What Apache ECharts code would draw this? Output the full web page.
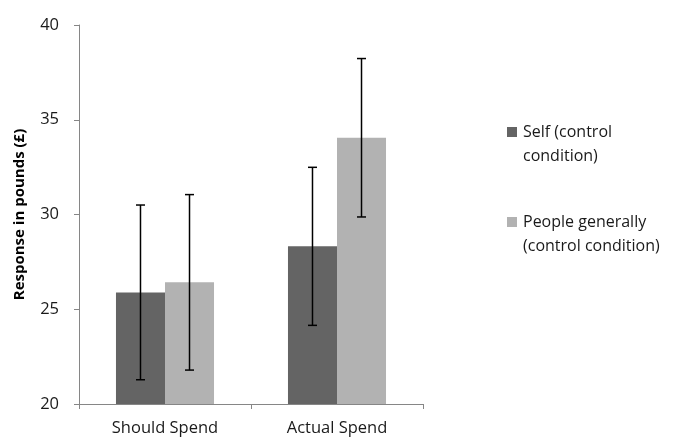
<!DOCTYPE html>
<html>
<head>
<meta charset="utf-8">
<script src="https://cdn.jsdelivr.net/npm/echarts@6/dist/echarts.min.js"></script>
<style>
  html, body { margin: 0; padding: 0; background: #fff; }
  #chart { width: 677px; height: 439px; }
</style>
</head>
<body>
<div id="chart"></div>
<script>
// Spending responses by condition, with error bars
const categories = ['Should Spend', 'Actual Spend'];
const seriesNames = ['Self (control condition)', 'People generally (control condition)'];
const legendLines = [['Self (control', 'condition)'], ['People generally', '(control condition)']];
const selfMeans = [25.89, 28.32];
const selfErrors = [4.61, 4.17];
const peopleMeans = [26.42, 34.05];
const peopleErrors = [4.63, 4.18];

const yTicks = { min: 20, max: 40, interval: 5 };

const FONT = '"Open Sans", sans-serif';
const DARK = '#646464';
const LIGHT = '#b2b2b2';
const AXIS = '#868686';
const CATEGORY_GAP = 0.43;

// Error bar whiskers, shifted to sit on each bar of the pair
function errorBarSeries(means, errors, side) {
  return {
    type: 'custom',
    name: 'err' + side,
    silent: true,
    z: 5,
    data: means.map((m, i) => [i, m - errors[i], m + errors[i]]),
    renderItem: function (params, api) {
      const band = api.size([1, 0])[0];
      const barW = band * (1 - CATEGORY_GAP) / 2;
      const dx = side * barW / 2;
      const lo = api.coord([api.value(0), api.value(1)]);
      const hi = api.coord([api.value(0), api.value(2)]);
      const x = lo[0] + dx;
      const cap = 4.5;
      const style = { stroke: '#000', lineWidth: 1.5 };
      return {
        type: 'group',
        children: [
          { type: 'line', shape: { x1: x, y1: lo[1], x2: x, y2: hi[1] }, style: style },
          { type: 'line', shape: { x1: x - cap, y1: hi[1], x2: x + cap, y2: hi[1] }, style: style },
          { type: 'line', shape: { x1: x - cap, y1: lo[1], x2: x + cap, y2: lo[1] }, style: style }
        ]
      };
    }
  };
}

const chart = echarts.init(document.getElementById('chart'));
chart.setOption({
  animation: false,
  grid: { left: 79, right: 254, top: 25, bottom: 35 },
  legend: {
    data: seriesNames,
    orient: 'vertical',
    left: 502,
    top: 91,
    itemWidth: 10,
    itemHeight: 10,
    itemGap: 18,
    icon: 'rect',
    selectedMode: false,
    // a blank leading line keeps the swatch level with the first text line
    formatter: function (name) {
      const lines = legendLines[seriesNames.indexOf(name)];
      return ' \n' + lines.join('\n');
    },
    textStyle: {
      fontFamily: FONT,
      fontSize: 16,
      color: '#1a1a1a',
      lineHeight: 24,
      padding: [0, 0, 0, 1]
    }
  },
  xAxis: {
    type: 'category',
    data: categories,
    axisLine: { lineStyle: { color: AXIS, width: 1 } },
    axisTick: { show: true, length: 5, lineStyle: { color: AXIS } },
    axisLabel: { fontFamily: FONT, fontSize: 16.5, color: '#1a1a1a', margin: 16 }
  },
  yAxis: {
    type: 'value',
    min: yTicks.min,
    max: yTicks.max,
    interval: yTicks.interval,
    name: 'Response in pounds (£)',
    nameLocation: 'middle',
    nameGap: 52,
    nameTextStyle: { fontFamily: FONT, fontSize: 15, fontWeight: 'bold', color: '#000' },
    axisLine: { show: true, lineStyle: { color: AXIS, width: 1 } },
    axisTick: { show: true, length: 5, lineStyle: { color: AXIS } },
    axisLabel: { fontFamily: FONT, fontSize: 16.5, color: '#1a1a1a', margin: 20 },
    splitLine: { show: false }
  },
  series: [
    {
      name: seriesNames[0],
      type: 'bar',
      data: selfMeans,
      barGap: '0%',
      barCategoryGap: (CATEGORY_GAP * 100) + '%',
      itemStyle: { color: DARK }
    },
    {
      name: seriesNames[1],
      type: 'bar',
      data: peopleMeans,
      itemStyle: { color: LIGHT }
    },
    errorBarSeries(selfMeans, selfErrors, -1),
    errorBarSeries(peopleMeans, peopleErrors, 1)
  ]
});
</script>
</body>
</html>
